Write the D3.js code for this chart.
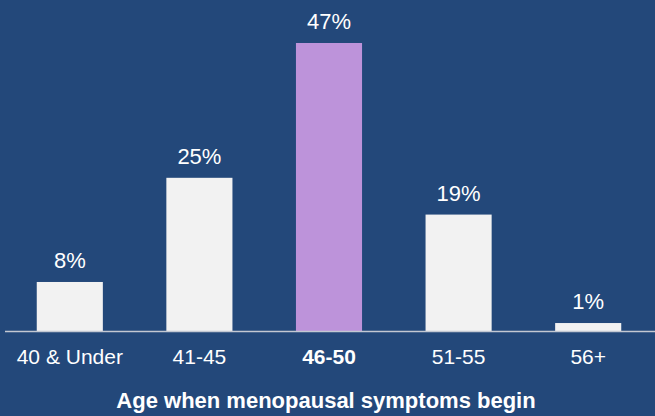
<!DOCTYPE html>
<html>
<head>
<meta charset="utf-8">
<script src="https://cdn.jsdelivr.net/npm/d3@7"></script>
<style>
  html, body { margin: 0; padding: 0; background: #23487a; }
  svg { display: block; font-family: "Liberation Sans", Arial, sans-serif; }
</style>
</head>
<body>
<svg id="chart" width="655" height="416"></svg>
<script>
// Age groups and share of women whose symptoms began in each
var categories = ["40 & Under", "41-45", "46-50", "51-55", "56+"];
var values = [8, 25, 47, 19, 1.3];
var valueLabels = ["8%", "25%", "47%", "19%", "1%"];
var highlight = "46-50";

var W = 655, H = 416;
var baseY = 331;
var svg = d3.select("#chart");

svg.append("rect").attr("width", W).attr("height", H).attr("fill", "#23487a");

var x = d3.scaleBand().domain(categories).range([5, 653]).paddingInner(0.49).paddingOuter(0.245);
var y = d3.scaleLinear().domain([0, 47]).range([baseY, 43]);

svg.selectAll("rect.bar").data(categories).enter().append("rect")
  .attr("class", "bar")
  .attr("x", function (d) { return x(d); })
  .attr("y", function (d, i) { return y(values[i]); })
  .attr("width", x.bandwidth())
  .attr("height", function (d, i) { return baseY - y(values[i]); })
  .attr("fill", function (d) { return d === highlight ? "#bd93da" : "#f2f2f2"; });

svg.selectAll("text.val").data(categories).enter().append("text")
  .attr("class", "val")
  .attr("x", function (d) { return x(d) + x.bandwidth() / 2; })
  .attr("y", function (d, i) { return y(values[i]) - 14; })
  .attr("text-anchor", "middle")
  .attr("fill", "#ffffff")
  .style("font-size", "22px")
  .text(function (d, i) { return valueLabels[i]; });

// baseline
svg.append("line").attr("x1", 5).attr("x2", W).attr("y1", baseY + 0.5).attr("y2", baseY + 0.5)
  .attr("stroke", "#c3c8d2").attr("stroke-width", 1.5);

var axis = d3.axisBottom(x).tickSize(0).tickPadding(18);
var g = svg.append("g").attr("transform", "translate(0," + baseY + ")").call(axis);
g.select(".domain").remove();
g.selectAll("text")
  .attr("fill", "#ffffff")
  .style("font-size", "21px")
  .style("font-family", "Liberation Sans, Arial, sans-serif")
  .style("font-weight", function (d) { return d === highlight ? "bold" : "normal"; });

svg.append("text")
  .attr("x", 326).attr("y", 408)
  .attr("text-anchor", "middle")
  .attr("fill", "#ffffff")
  .style("font-size", "22px")
  .style("font-weight", "bold")
  .text("Age when menopausal symptoms begin");
</script>
</body>
</html>
